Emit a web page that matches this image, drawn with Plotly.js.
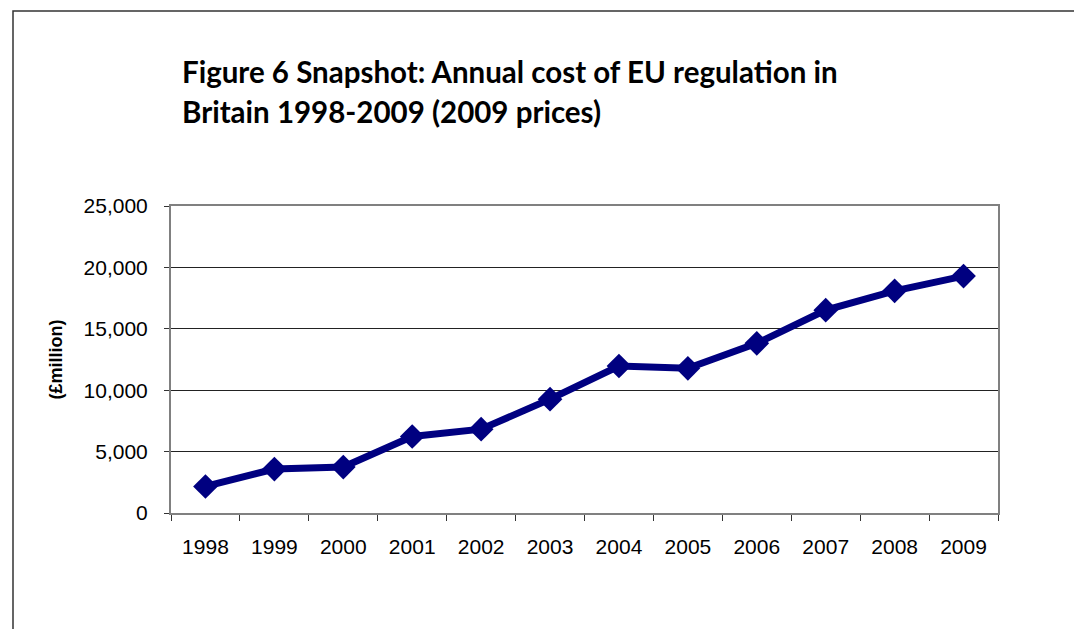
<!DOCTYPE html>
<html>
<head>
<meta charset="utf-8">
<script src="https://cdn.plot.ly/plotly-3.0.1.min.js"></script>
<style>
  html, body { margin: 0; padding: 0; background: #ffffff; }
  #chart { width: 1074px; height: 629px; }
</style>
</head>
<body>
<div id="chart"></div>
<script>
// Data
const years = ['1998', '1999', '2000', '2001', '2002', '2003', '2004', '2005', '2006', '2007', '2008', '2009'];
const costMillion = [2160, 3580, 3740, 6230, 6830, 9270, 11970, 11780, 13820, 16520, 18090, 19290];
const yTickValues = [0, 5000, 10000, 15000, 20000, 25000];
const yTickLabels = ['0', '5,000', '10,000', '15,000', '20,000', '25,000'];
const titleLines = ['Figure 6 Snapshot: Annual cost of EU regulation in', 'Britain 1998-2009 (2009 prices)'];
const yTitle = '(£million)';

// Layout geometry (pixels)
const W = 1074, H = 629;
const L = 171, R = 998, T = 206, B = 513;
const pw = R - L, ph = B - T;
const px = v => (v - L) / pw;
const py = v => (B - v) / ph;

const trace = {
  x: years,
  y: costMillion,
  type: 'scatter',
  mode: 'lines+markers',
  line: { color: '#000080', width: 7 },
  marker: { symbol: 'diamond', size: 19, color: '#000080' },
  cliponaxis: false,
  hoverinfo: 'x+y'
};

const layout = {
  width: W,
  height: H,
  margin: { l: L, r: W - R, t: T, b: H - B, pad: 0 },
  paper_bgcolor: '#ffffff',
  plot_bgcolor: '#ffffff',
  showlegend: false,
  font: { family: 'Liberation Sans, Arial, sans-serif', color: '#000000', size: 21 },
  xaxis: {
    type: 'category',
    range: [-0.5, years.length - 0.5],
    tickson: 'boundaries',
    ticks: 'outside',
    ticklen: 6,
    tickwidth: 1,
    tickcolor: '#333333',
    showline: true,
    linecolor: '#808080',
    linewidth: 2,
    mirror: true,
    showgrid: false,
    zeroline: false,
    tickfont: { size: 21, family: 'Liberation Sans, Arial, sans-serif', color: '#000000' },
    ticklabelstandoff: 14,
    fixedrange: true
  },
  yaxis: {
    range: [0, 25000],
    tickvals: yTickValues,
    ticktext: yTickLabels,
    ticks: 'outside',
    ticklen: 5,
    tickwidth: 1,
    tickcolor: '#333333',
    showline: true,
    linecolor: '#808080',
    linewidth: 2,
    mirror: true,
    showgrid: true,
    gridcolor: '#222222',
    gridwidth: 1,
    zeroline: false,
    tickfont: { size: 21, family: 'Liberation Sans, Arial, sans-serif', color: '#000000' },
    ticklabelstandoff: 12,
    title: {
      text: yTitle,
      font: { size: 18, family: 'Liberation Sans, Arial, sans-serif', color: '#000000', weight: 'bold' },
      standoff: 16
    },
    fixedrange: true
  },
  annotations: [
    {
      text: '<b>' + titleLines[0] + '</b>',
      xref: 'paper', yref: 'paper',
      x: px(180), y: py(71),
      xanchor: 'left', yanchor: 'middle',
      showarrow: false,
      font: { family: 'Lato, Carlito, Calibri, sans-serif', size: 29.5, color: '#000000' }
    },
    {
      text: '<b>' + titleLines[1] + '</b>',
      xref: 'paper', yref: 'paper',
      x: px(180), y: py(111),
      xanchor: 'left', yanchor: 'middle',
      showarrow: false,
      font: { family: 'Lato, Carlito, Calibri, sans-serif', size: 29.5, color: '#000000' }
    }
  ],
  shapes: [
    {
      type: 'rect',
      xref: 'paper', yref: 'paper',
      x0: px(13), x1: px(1090),
      y0: py(660), y1: py(11),
      line: { color: '#333333', width: 1.5 },
      fillcolor: 'rgba(0,0,0,0)',
      layer: 'above'
    }
  ]
};

Plotly.newPlot('chart', [trace], layout, { displayModeBar: false, staticPlot: true });
</script>
</body>
</html>
